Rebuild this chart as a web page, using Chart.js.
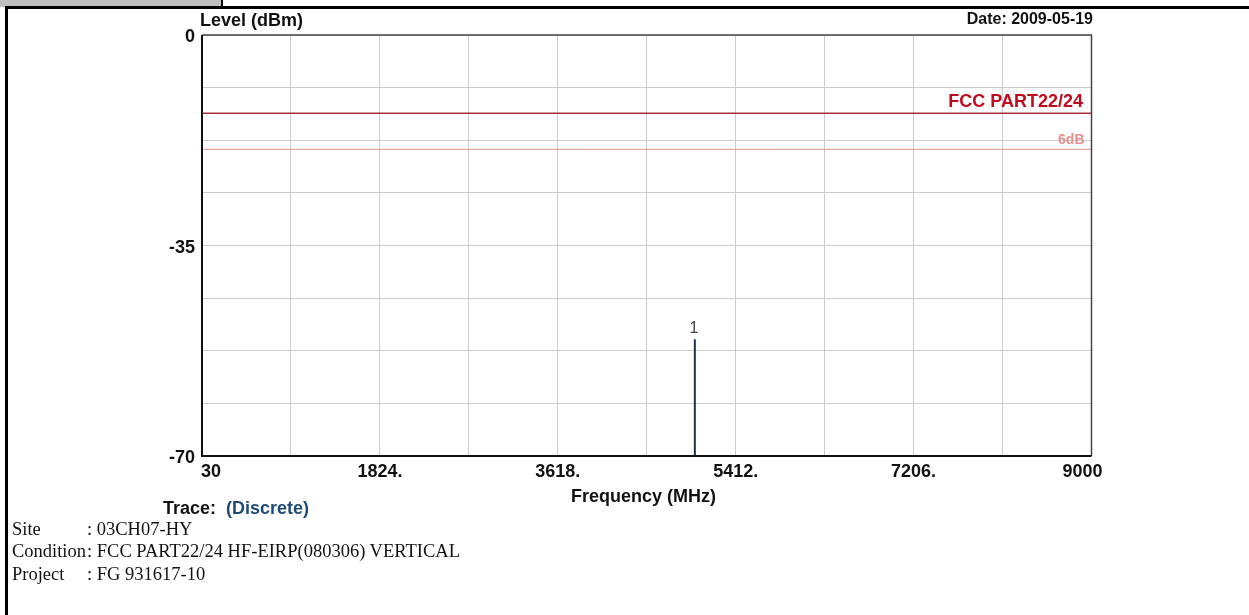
<!DOCTYPE html>
<html><head><meta charset="utf-8">
<script src="https://cdn.jsdelivr.net/npm/chart.js@4.4.0/dist/chart.umd.min.js"></script>
<style>
html,body{margin:0;padding:0;background:#fff;width:1249px;height:615px;overflow:hidden;position:relative;font-family:"Liberation Sans",Arial,sans-serif;}
#c{position:absolute;left:0;top:0;}
.t{position:absolute;white-space:nowrap;line-height:1;}
.b{font-weight:bold;color:#111;}
.s{font-family:"Liberation Serif","Times New Roman",serif;font-size:18.5px;color:#111;}
#graybox{position:absolute;left:0;top:0;width:221px;height:7px;background:#c0c0c0;border-right:2px solid #000;}
#topline{position:absolute;left:5px;top:6px;width:1244px;height:2.5px;background:#000;}
#leftbar{position:absolute;left:5px;top:7px;width:3px;height:608px;background:#000;}
</style></head><body>
<div id="graybox"></div>
<div id="topline"></div>
<div id="leftbar"></div>
<canvas id="c" width="1249" height="615"></canvas>
<div class="t b" style="left:200px;top:10.8px;font-size:18px">Level (dBm)</div>
<div class="t b" style="right:156px;top:10.5px;font-size:16px">Date: 2009-05-19</div>
<div class="t b" style="left:571px;top:486.8px;font-size:18px">Frequency (MHz)</div>
<div class="t b" style="left:163px;top:498.8px;font-size:18px">Trace:<span style="color:#1f4a78;margin-left:10px">(Discrete)</span></div>
<div class="t s" style="left:12px;top:520px">Site</div>
<div class="t s" style="left:87px;top:520px">: 03CH07-HY</div>
<div class="t s" style="left:12px;top:542px">Condition</div>
<div class="t s" style="left:87px;top:542px">: FCC PART22/24 HF-EIRP(080306) VERTICAL</div>
<div class="t s" style="left:12px;top:565px">Project</div>
<div class="t s" style="left:87px;top:565px">: FG 931617-10</div>
<script>
// ---- data ----
const xGridValues = [30, 927, 1824, 2721, 3618, 4515, 5412, 6309, 7206, 8103, 9000];
const xTickValues = [30, 1824, 3618, 5412, 7206, 9000];
const xTickLabels = ["30", "1824.", "3618.", "5412.", "7206.", "9000"];
const yGridValues = [0, -8.75, -17.5, -26.25, -35, -43.75, -52.5, -61.25, -70];
const yTickValues = [0, -35, -70];
const yTickLabels = ["0", "-35", "-70"];
const limitFreqs = [30, 9000];
const limitLevels = [-13, -13];
const marginLevels = [-19, -19];
const limitLabel = "FCC PART22/24";
const marginLabel = "6dB";
const markerFreqs = [5000];
const markerLevels = [-50.6];
const markerLabels = ["1"];
const yMin = -70, yMax = 0, xMin = 30, xMax = 9000;

// ---- build datasets ----
const limitData = limitFreqs.map((f, i) => ({x: f, y: limitLevels[i]}));
const marginData = limitFreqs.map((f, i) => ({x: f, y: marginLevels[i]}));
const traceData = [];
markerFreqs.forEach((f, i) => {
  traceData.push({x: f, y: yMin});
  traceData.push({x: f, y: markerLevels[i]});
  traceData.push({x: f, y: null});
});

const FONT = '"Liberation Sans", Arial, sans-serif';

const overlay = {
  id: 'overlay',
  afterDraw(chart) {
    const ctx = chart.ctx, a = chart.chartArea;
    const xs = chart.scales.x, ys = chart.scales.y;
    ctx.save();
    // plot frame
    ctx.strokeStyle = '#444'; ctx.lineWidth = 1.5;
    ctx.beginPath();
    ctx.moveTo(a.left, a.top); ctx.lineTo(a.right, a.top); ctx.lineTo(a.right, a.bottom);
    ctx.stroke();
    ctx.strokeStyle = '#111'; ctx.lineWidth = 2;
    ctx.beginPath();
    ctx.moveTo(a.left, a.top); ctx.lineTo(a.left, a.bottom); ctx.lineTo(a.right, a.bottom);
    ctx.stroke();
    // tick labels
    ctx.fillStyle = '#111';
    ctx.font = 'bold 18px ' + FONT;
    ctx.textBaseline = 'alphabetic';
    ctx.textAlign = 'right';
    yTickValues.forEach((v, i) => {
      ctx.fillText(yTickLabels[i], a.left - 7, ys.getPixelForValue(v) + 7);
    });
    ctx.textAlign = 'center';
    xTickValues.forEach((v, i) => {
      let px = xs.getPixelForValue(v);
      if (i === 0) px += 9;
      if (i === xTickValues.length - 1) px -= 9;
      ctx.fillText(xTickLabels[i], px, a.bottom + 21);
    });
    // limit labels
    ctx.textAlign = 'right';
    ctx.fillStyle = '#c00a1e';
    ctx.fillText(limitLabel, a.right - 8.5, ys.getPixelForValue(limitLevels[0]) - 5.7);
    ctx.font = 'bold 14px ' + FONT;
    ctx.fillStyle = '#e29090';
    ctx.fillText(marginLabel, a.right - 7, ys.getPixelForValue(marginLevels[0]) - 5);
    // marker labels
    ctx.font = '16px ' + FONT;
    ctx.fillStyle = '#444';
    ctx.textAlign = 'center';
    markerFreqs.forEach((f, i) => {
      ctx.fillText(markerLabels[i], xs.getPixelForValue(f) - 1, ys.getPixelForValue(markerLevels[i]) - 6);
    });
    ctx.restore();
  }
};

new Chart(document.getElementById('c'), {
  type: 'line',
  data: {
    datasets: [
      {data: limitData, borderColor: '#a8303c', borderWidth: 1.5, pointRadius: 0},
      {data: marginData, borderColor: '#d89595', borderWidth: 1, pointRadius: 0},
      {data: traceData, borderColor: '#22324a', borderWidth: 2, pointRadius: 0, spanGaps: false}
    ]
  },
  options: {
    responsive: false,
    animation: false,
    events: [],
    layout: {padding: {left: 202, top: 35, right: 157.5, bottom: 159}},
    plugins: {legend: {display: false}, tooltip: {enabled: false}},
    scales: {
      x: {
        type: 'linear', min: xMin, max: xMax,
        afterBuildTicks: s => { s.ticks = xGridValues.map(v => ({value: v})); },
        ticks: {display: false},
        grid: {color: '#cccccc', lineWidth: 1, drawTicks: false},
        border: {display: false}
      },
      y: {
        type: 'linear', min: yMin, max: yMax,
        afterBuildTicks: s => { s.ticks = yGridValues.map(v => ({value: v})); },
        ticks: {display: false},
        grid: {color: '#cccccc', lineWidth: 1, drawTicks: false},
        border: {display: false}
      }
    }
  },
  plugins: [overlay]
});
</script>
</body></html>
